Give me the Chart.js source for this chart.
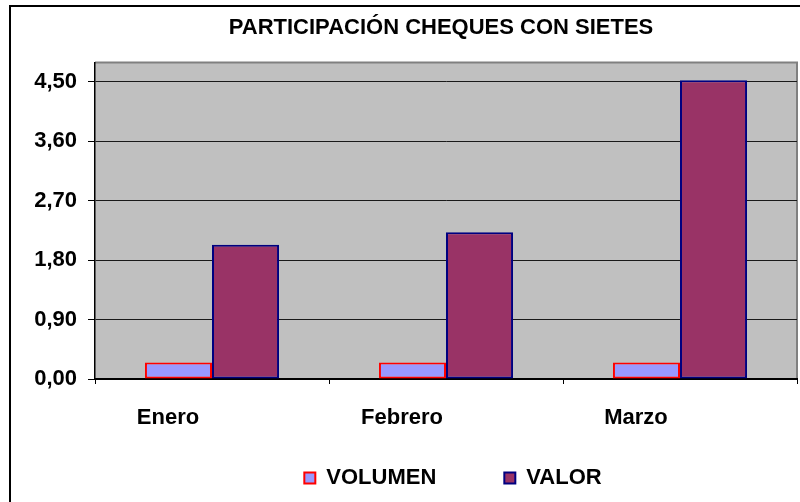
<!DOCTYPE html>
<html>
<head>
<meta charset="utf-8">
<script src="https://cdn.jsdelivr.net/npm/chart.js@4/dist/chart.umd.min.js"></script>
<style>
html,body{margin:0;padding:0;background:#fff;}
#c{display:block;}
</style>
</head>
<body>
<canvas id="c" width="800" height="502"></canvas>
<script>
const titleText = 'PARTICIPACIÓN CHEQUES CON SIETES';
const categories = ['Enero', 'Febrero', 'Marzo'];
const volumen = [0.25, 0.25, 0.25];
const valor = [2.03, 2.22, 4.52];
const yTicks = [0, 0.9, 1.8, 2.7, 3.6, 4.5];
const yMax = 4.79;

const FONT = '"Liberation Sans", Arial, sans-serif';

const framePlugin = {
  id: 'frame',
  afterLayout(chart) {
    if (chart.titleBlock) { chart.titleBlock.left -= 5; chart.titleBlock.right -= 5; }
    if (chart.legend) { chart.legend.left += 7; chart.legend.right += 7; }
  },
  beforeDraw(chart) {
    const ctx = chart.ctx;
    const a = chart.chartArea;
    ctx.save();
    ctx.fillStyle = '#ffffff';
    ctx.fillRect(0, 0, chart.width, chart.height);
    ctx.strokeStyle = '#000000';
    ctx.lineWidth = 2;
    ctx.strokeRect(10, 6, chart.width + 20, chart.height + 20);
    ctx.fillStyle = '#C0C0C0';
    ctx.fillRect(a.left, a.top, a.right - a.left, a.bottom - a.top);
    ctx.strokeStyle = '#808080';
    ctx.lineWidth = 2;
    ctx.beginPath();
    ctx.moveTo(a.left, a.top);
    ctx.lineTo(a.right, a.top);
    ctx.lineTo(a.right, a.bottom);
    ctx.stroke();
    ctx.restore();
  }
};

new Chart(document.getElementById('c'), {
  type: 'bar',
  data: {
    labels: categories,
    datasets: [
      {
        label: 'VOLUMEN',
        data: volumen,
        backgroundColor: '#9999FF',
        borderColor: '#FF0000',
        borderWidth: 2,
        borderSkipped: false
      },
      {
        label: 'VALOR',
        data: valor,
        backgroundColor: '#993366',
        borderColor: '#000080',
        borderWidth: 2,
        borderSkipped: false
      }
    ]
  },
  options: {
    responsive: false,
    animation: false,
    events: [],
    layout: { padding: { left: 0, right: 3, top: 0, bottom: 3 } },
    datasets: { bar: { categoryPercentage: 0.573, barPercentage: 1.0 } },
    plugins: {
      title: {
        display: true,
        text: titleText,
        fullSize: false,
        color: '#000000',
        font: { family: FONT, size: 22, weight: 'bold' },
        padding: { top: 15, bottom: 21 }
      },
      legend: {
        display: true,
        position: 'bottom',
        fullSize: false,
        labels: {
          color: '#000000',
          font: { family: FONT, size: 22, weight: 'bold' },
          boxWidth: 11,
          boxHeight: 11,
          padding: 68
        }
      },
      tooltip: { enabled: false }
    },
    scales: {
      x: {
        offset: true,
        grid: {
          display: true,
          offset: true,
          drawOnChartArea: false,
          drawTicks: true,
          tickLength: 5,
          color: '#000000',
          lineWidth: 1
        },
        border: { display: true, color: '#000000', width: 2 },
        ticks: {
          color: '#000000',
          font: { family: FONT, size: 22, weight: 'bold' },
          padding: 21,
          labelOffset: -44,
          maxRotation: 0,
          autoSkip: false
        },
        afterFit(scale) {
          scale.height = 20;
          scale._computeLabelArea = () => undefined;
        }
      },
      y: {
        min: 0,
        max: yMax,
        afterBuildTicks(scale) {
          scale.ticks = yTicks.map(v => ({ value: v }));
        },
        grid: {
          display: true,
          color: '#1a1a1a',
          lineWidth: 1,
          borderDash: [1, 1],
          drawTicks: true,
          tickLength: 7,
          tickColor: '#000000',
          tickBorderDash: []
        },
        border: { display: true, color: '#000000', width: 1.5 },
        ticks: {
          color: '#000000',
          font: { family: FONT, size: 22, weight: 'bold' },
          padding: 11,
          callback(v) { return Number(v).toFixed(2).replace('.', ','); }
        },
        afterFit(scale) { scale.width = 95; }
      }
    }
  },
  plugins: [framePlugin]
});
</script>
</body>
</html>
